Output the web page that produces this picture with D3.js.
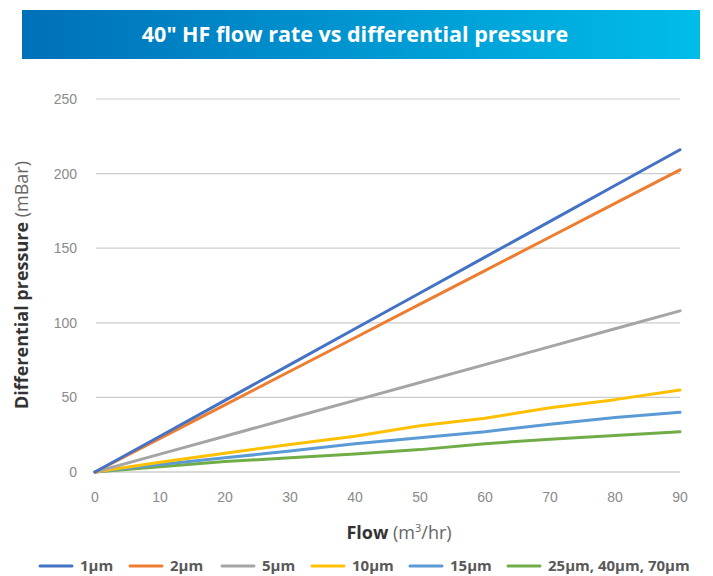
<!DOCTYPE html>
<html><head><meta charset="utf-8">
<script src="https://cdn.jsdelivr.net/npm/d3@7"></script>
<style>body{margin:0;background:#fff;font-family:"Open Sans",sans-serif}</style>
</head><body>
<svg id="c" width="713" height="576"></svg>
<script>
const flows = [0,10,20,30,40,50,60,70,80,90];
const s1 = [0,24,48,72,96,120,144,168,192,216];
const s2 = [0,22.5,45,67.5,90,112.5,135,157.5,180,202.5];
const s5 = [0,12,24,36,48,60,72,84,96,108];
const s10 = [0,6.5,12.5,18.5,24,31,36,43,48.5,55];
const s15 = [0,5,9.5,14,19,23,27,32,36.5,40];
const s25 = [0,3.5,7,9.5,12,15,19,22,24.5,27];
const seriesNames = ["1µm","2µm","5µm","10µm","15µm","25µm, 40µm, 70µm"];
const seriesColors = ["#4472c4","#ed7d31","#a5a5a5","#ffc000","#5b9bd5","#70ad47"];
const seriesData = [s1,s2,s5,s10,s15,s25];
const yTicks = [0,50,100,150,200,250];
const xTicks = flows;

const svg = d3.select("#c");
const defs = svg.append("defs");
const g = defs.append("linearGradient").attr("id","tg").attr("x1","0").attr("x2","1");
g.append("stop").attr("offset","0").attr("stop-color","#0070b9");
g.append("stop").attr("offset","1").attr("stop-color","#00bde9");
svg.append("rect").attr("x",22).attr("y",10).attr("width",678).attr("height",49).attr("fill","url(#tg)");
svg.append("text").attr("x",355).attr("y",42).attr("text-anchor","middle").attr("fill","#fff")
  .attr("font-size",21.5).attr("font-weight","bold").text('40" HF flow rate vs differential pressure');

const x = d3.scaleLinear().domain([0,90]).range([95,680]);
const y = d3.scaleLinear().domain([0,250]).range([472,99]);

svg.append("g").selectAll("line").data(yTicks).join("line")
  .attr("x1",96).attr("x2",680).attr("y1",d=>y(d)).attr("y2",d=>y(d))
  .attr("stroke",d=>d===0?"#d9d9d9":"#cccccc").attr("stroke-width",d=>d===0?2:1.2);
svg.append("g").selectAll("text").data(yTicks).join("text")
  .attr("x",77).attr("y",d=>y(d)+5).attr("text-anchor","end").attr("fill","#8a8a8a")
  .attr("font-family","Liberation Sans, sans-serif").attr("font-size",14).text(d=>d);
svg.append("g").selectAll("text").data(xTicks).join("text")
  .attr("x",d=>x(d)).attr("y",502).attr("text-anchor","middle").attr("fill","#8a8a8a")
  .attr("font-family","Liberation Sans, sans-serif").attr("font-size",14).text(d=>d);

const line = d3.line().x((d,i)=>x(flows[i])).y(d=>y(d));
svg.append("g").selectAll("path").data(seriesData.map((d,i)=>({d,i})).reverse()).join("path")
  .attr("d",o=>line(o.d)).attr("fill","none").attr("stroke",o=>seriesColors[o.i])
  .attr("stroke-width",3).attr("stroke-linecap","round").attr("stroke-linejoin","round");

const xt = svg.append("text").attr("x",399).attr("y",539).attr("text-anchor","middle").attr("fill","#333").attr("font-size",18);
xt.append("tspan").attr("font-weight","bold").text("Flow");
xt.append("tspan").attr("fill","#666").text(" (m");
xt.append("tspan").attr("fill","#666").attr("font-size",11).attr("dy",-7).text("3");
xt.append("tspan").attr("fill","#666").attr("dy",7).text("/hr)");

const yt = svg.append("text").attr("transform","translate(28,285) rotate(-90)").attr("text-anchor","middle").attr("fill","#333").attr("font-size",18);
yt.append("tspan").attr("font-weight","bold").text("Differential pressure");
yt.append("tspan").attr("fill","#666").text(" (mBar)");

const legX = [40,130,222,312,410,508];
const leg = svg.append("g").selectAll("g").data(seriesNames).join("g")
  .attr("transform",(d,i)=>`translate(${legX[i]},566)`);
leg.append("line").attr("x1",0).attr("x2",32).attr("stroke",(d,i)=>seriesColors[i]).attr("stroke-width",3).attr("stroke-linecap","round");
leg.append("text").attr("x",40).attr("y",5).attr("fill","#595959").attr("font-size",15).attr("font-weight","bold").text(d=>d);
</script>
</body></html>
